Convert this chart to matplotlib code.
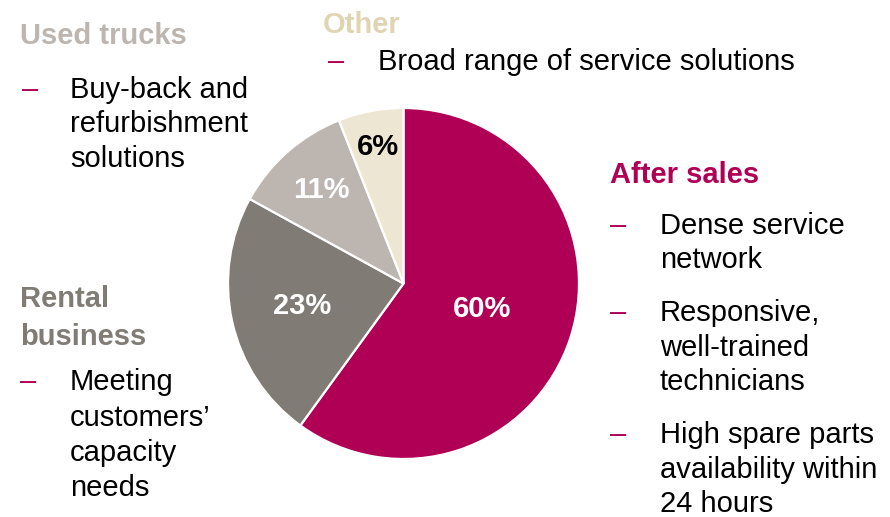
import numpy as np
import matplotlib.pyplot as plt

# Segment shares (clockwise from 12 o'clock)
segments = ["After sales", "Rental business", "Used trucks", "Other"]
shares = [60, 23, 11, 6]

# Header text per segment
headers = ["After sales", "Rental\nbusiness", "Used trucks", "Other"]

# Bullet points per segment
bullets = [
    ["Dense service\nnetwork",
     "Responsive,\nwell-trained\ntechnicians",
     "High spare parts\navailability within\n24 hours"],
    ["Meeting\ncustomers’\ncapacity\nneeds"],
    ["Buy-back and\nrefurbishment\nsolutions"],
    ["Broad range of service solutions"],
]

# Styling
wedge_colors = ["#B00055", "#807B75", "#BCB5B0", "#EDE6D2"]
header_colors = ["#B00055", "#807B75", "#BCB5B0", "#E0D5B2"]
pct_colors = ["white", "white", "white", "black"]
pct_radius = [0.47, 0.59, 0.71, 0.79]
dash_color = "#B00055"

W, H = 890, 517
FS = 21
plt.rcParams["font.family"] = ["Liberation Sans", "DejaVu Sans"]

fig = plt.figure(figsize=(W / 100, H / 100), dpi=100)


def put(x, y, s, **kw):
    # x, y in pixels from top-left; y is the text baseline
    fig.text(x / W, 1 - y / H, s, va="baseline", ha="left", fontsize=FS, **kw)


# =========================
# Pie
# =========================
cx, cy, R = 403.5, 283.5, 175.5
ax = fig.add_axes([(cx - R) / W, 1 - (cy + R) / H, 2 * R / W, 2 * R / H])
wedges, _ = ax.pie(
    shares, colors=wedge_colors, startangle=90, counterclock=False,
    radius=1, wedgeprops=dict(edgecolor="white", linewidth=1.6),
)
ax.set_xlim(-1, 1)
ax.set_ylim(-1, 1)
ax.set_aspect("auto")
ax.axis("off")

for w, v, r, c in zip(wedges, shares, pct_radius, pct_colors):
    ang = np.deg2rad((w.theta1 + w.theta2) / 2)
    ax.text(r * np.cos(ang), r * np.sin(ang), f"{v}%", ha="center",
            va="center", fontsize=FS, fontweight="bold", color=c)

# =========================
# Text blocks
# =========================
# header x, header baseline, dash x, text x, first bullet baselines, line step
layout = [
    dict(hx=610, hy=183, dx=610, tx=660, by=[234, 321, 443], step=34.5, hstep=37),
    dict(hx=20, hy=307, dx=20, tx=70, by=[390], step=35.5, hstep=38),
    dict(hx=20, hy=44, dx=22, tx=70, by=[98], step=34.5, hstep=37),
    dict(hx=323, hy=33, dx=328, tx=378, by=[70], step=34.5, hstep=37),
]

for head, items, col, lay in zip(headers, bullets, header_colors, layout):
    for i, line in enumerate(head.split("\n")):
        put(lay["hx"], lay["hy"] + i * lay["hstep"], line,
            color=col, fontweight="bold")
    for item, y0 in zip(items, lay["by"]):
        put(lay["dx"], y0, "–", color=dash_color)
        for j, line in enumerate(item.split("\n")):
            put(lay["tx"], y0 + j * lay["step"], line, color="black")

fig.savefig("out.png", dpi=100)
